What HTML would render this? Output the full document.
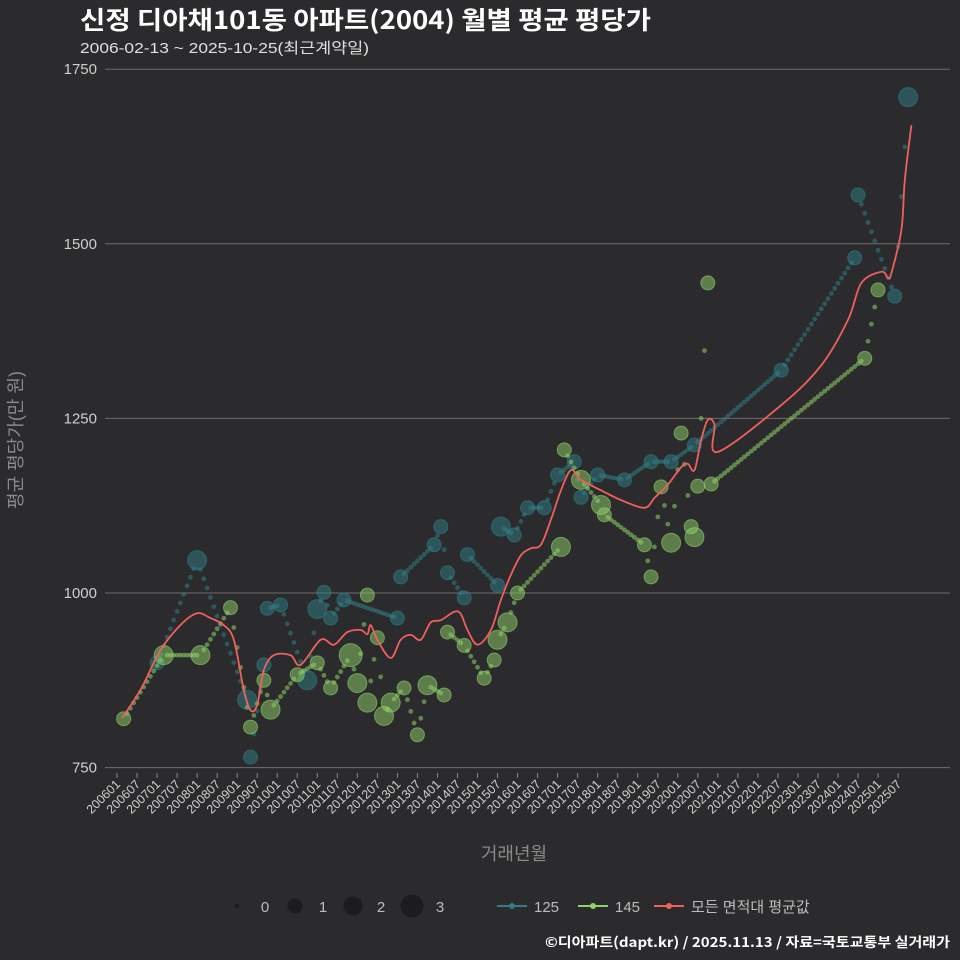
<!DOCTYPE html>
<html><head><meta charset="utf-8">
<style>
body{margin:0;background:#2b2a2c;}
svg{display:block;font-family:"Liberation Sans","Noto Sans CJK KR",sans-serif;}
</style></head>
<body>
<svg id="chart" width="960" height="960" viewBox="0 0 960 960">
<rect width="960" height="960" fill="#2b2a2c"/>
<text x="80" y="29" font-size="25" font-weight="bold" fill="#ffffff" font-family="Noto Sans CJK KR, sans-serif" textLength="571" lengthAdjust="spacingAndGlyphs">신정 디아채101동 아파트(2004) 월별 평균 평당가</text>
<text x="80" y="53" font-size="15" fill="#e0e0e0" textLength="289" lengthAdjust="spacingAndGlyphs">2006-02-13 ~ 2025-10-25(최근계약일)</text>
<g id="grid"></g>
<g id="marks"></g>
<text x="0" y="0" transform="translate(22,440) rotate(-90)" text-anchor="middle" font-size="18" fill="#8a8a8a">평균 평당가(만 원)</text>
<text x="514" y="860" text-anchor="middle" font-size="18" fill="#8a8a8a">거래년월</text>
<g id="legend"></g>
<text x="545" y="947" font-size="13.5" font-weight="bold" fill="#ffffff" font-family="Noto Sans CJK KR, sans-serif" textLength="405" lengthAdjust="spacingAndGlyphs">©디아파트(dapt.kr) / 2025.11.13 / 자료=국토교통부 실거래가</text>
</svg>
<script>
const yTicks=[750,1000,1250,1500,1750];
const xTickLabels=["200601","200607","200701","200707","200801","200807","200901","200907","201001","201007","201101","201107","201201","201207","201301","201307","201401","201407","201501","201507","201601","201607","201701","201707","201801","201807","201901","201907","202001","202007","202101","202107","202201","202207","202301","202307","202401","202407","202501","202507"];
// series 125: month index (from 2006-01), value, count
const s125Month=[12,24,40,39,44,45,49,57,60,62,64,68,84,85,95,97,99,104,105,114,115,119,123,128,132,137,139,144,152,160,166,173,199,221,222,233,237];
const s125Value=[900,1047,765,847,897,978,983,875,977,1001,964,990,964,1023,1069,1095,1029,993,1055,1011,1095,1083,1122,1122,1169,1188,1137,1169,1162,1188,1188,1212,1319,1480,1570,1425,1710];
const s125Count=[1,2,1,2,1,1,1,2,2,1,1,1,1,1,1,1,1,1,1,1,2,1,1,1,1,1,1,1,1,1,1,1,1,1,1,1,2];
const s145Month=[2,14,25,34,40,44,46,54,60,64,70,72,75,75,78,80,82,86,90,93,98,99,104,110,113,114,117,120,133,134,139,145,146,158,160,163,166,169,172,174,173,177,178,224,228];
const s145Value=[820,911,911,979,808,875,833,883,900,864,911,871,997,843,936,824,843,864,797,868,854,944,925,878,904,933,958,1000,1066,1205,1162,1126,1112,1069,1023,1152,1072,1229,1095,1153,1080,1444,1156,1336,1434];
const s145Count=[1,2,2,1,1,1,2,1,1,1,3,2,1,2,1,2,2,1,1,2,1,1,1,1,1,2,2,1,2,1,2,2,1,1,1,1,2,1,1,1,2,1,1,1,1];
const avgMonth=[1.5,7,13,19,24,28,32,35,38,40,42,44,47,52,55,61,65,69,73,75,76,78,82,85,88,91,94,97,101,103,105,108,112,115,118,121,124,127,130,133,136,139,145,151,158,161,165,169,171,173,175,177,179,180,199,211,219,223,229,231,232,235,236,238];
const avgValue=[821,861,918,954,971,964,954,933,861,832,840,890,911,911,897,933,926,944,947,941,954,933,907,933,940,933,958,961,973,970,947,926,947,990,1026,1054,1064,1069,1105,1147,1176,1162,1147,1133,1122,1136,1155,1180,1185,1176,1219,1248,1241,1202,1269,1326,1391,1444,1460,1451,1458,1520,1591,1670];
const legendCounts=[0,1,2,3];

const NS="http://www.w3.org/2000/svg";
const X=m=>117+m*3.338;
const Y=v=>593-(v-1000)*0.6984;
const R=c=>[2.5,7,9.5,11.5][c];
function mk(tag,attrs,parent){const e=document.createElementNS(NS,tag);for(const k in attrs)e.setAttribute(k,attrs[k]);parent.appendChild(e);return e;}
const grid=document.getElementById('grid'),marks=document.getElementById('marks'),legend=document.getElementById('legend');
yTicks.forEach(v=>{
  const l=mk('line',{x1:105,x2:950,y1:Y(v),y2:Y(v),stroke:'#6e6e6e','stroke-width':1},grid);
  
  
  const t=mk('text',{x:97,y:Y(v)+5,'text-anchor':'end','font-size':15,fill:'#cfcfcf'},grid);
  t.textContent=v;
  
  
});
xTickLabels.forEach((lab,i)=>{
  const x=X(i*6);
  const tk=mk('line',{x1:x,x2:x,y1:773,y2:778,stroke:'#8a8a8a'},grid);
  
  
  const t=mk('text',{x:0,y:0,transform:`translate(${x+4},${785}) rotate(-45)`,'text-anchor':'end','font-size':12.5,fill:'#cfcfcf'},grid);
  t.textContent=lab;
  
  
});
function series(ms,vs,cs,color,name){
  const g=mk('g',{},marks);
  
  
  const idx=ms.map((m,i)=>i).sort((a,b)=>ms[a]-ms[b]);
  for(let k=1;k<idx.length;k++){
    const a=idx[k-1],b=idx[k];
    const m0=ms[a],m1=ms[b];
    for(let m=Math.floor(m0)+1;m<m1;m++){
      const v=vs[a]+(vs[b]-vs[a])*(m-m0)/(m1-m0);
      const d=mk('circle',{cx:X(m),cy:Y(v),r:2.4,fill:color,'fill-opacity':0.55},g);
      
      
    }
  }
  ms.forEach((m,i)=>{
    const c=mk('circle',{cx:X(m),cy:Y(vs[i]),r:R(cs[i]),fill:color,'fill-opacity':0.5,stroke:color,'stroke-opacity':0.6},g);
    
    
  });
}
series(s125Month,s125Value,s125Count,'#2f7f85','series-125');
series(s145Month,s145Value,s145Count,'#8fd16a','series-145');
// smoothed average line (Catmull-Rom)
const P=avgMonth.map((m,i)=>[X(m),Y(avgValue[i])]);
let ad='M'+P[0][0].toFixed(1)+','+P[0][1].toFixed(1);
for(let i=0;i<P.length-1;i++){
  const p0=P[i-1]||P[i],p1=P[i],p2=P[i+1],p3=P[i+2]||P[i+1];
  const c1=[p1[0]+(p2[0]-p0[0])/6,p1[1]+(p2[1]-p0[1])/6];
  const c2=[p2[0]-(p3[0]-p1[0])/6,p2[1]-(p3[1]-p1[1])/6];
  ad+=` C${c1[0].toFixed(1)},${c1[1].toFixed(1)} ${c2[0].toFixed(1)},${c2[1].toFixed(1)} ${p2[0].toFixed(1)},${p2[1].toFixed(1)}`;
}
const ap=mk('path',{d:ad,fill:'none',stroke:'#f0605d','stroke-width':1.8,'stroke-linejoin':'round'},marks);


// legend
const lx=[237,295,353,412];
legendCounts.forEach((c,i)=>{
  const ci=mk('circle',{cx:lx[i],cy:906,r:c===0?2:[0,7.5,9.5,11.5][c],fill:'#1c1b1d'},legend);
  
  
  const t=mk('text',{x:lx[i]+28,y:912,'text-anchor':'middle','font-size':15,fill:'#bdbdbd'},legend);
  t.textContent=c;
  
  
});
[[497,'#2f7f85','125'],[578,'#8fd16a','145'],[654,'#f0605d','모든 면적대 평균값']].forEach(([x,col,lab])=>{
  const l=mk('line',{x1:x,x2:x+30,y1:906,y2:906,stroke:col,'stroke-width':2},legend);
  
  
  const c=mk('circle',{cx:x+15,cy:906,r:3,fill:col},legend);
  
  
  const t=mk('text',{x:x+37,y:912,'font-size':15,fill:'#bdbdbd'},legend);
  t.textContent=lab;
  
  
});
</script>
</body></html>
